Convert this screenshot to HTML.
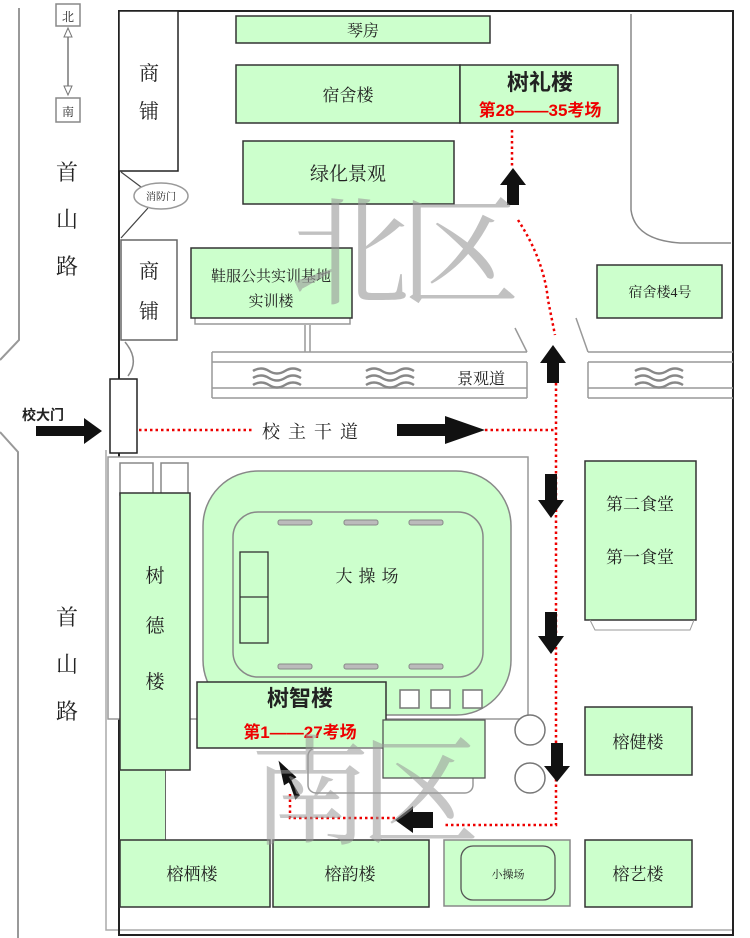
<!DOCTYPE html>
<html><head><meta charset="utf-8"><style>
html,body{margin:0;padding:0;background:#fff}
svg{display:block}
text{font-family:"Liberation Serif","Noto Serif CJK SC","WenQuanYi Zen Hei",serif;fill:#222}
.b{font-family:"Liberation Sans","Noto Sans CJK SC",sans-serif;font-weight:bold}
.g{fill:#ccffcc;stroke:#333;stroke-width:1.5}
.w{fill:#fff;stroke:#555;stroke-width:1.5}
.rd{fill:none;stroke:#e00;stroke-width:2.5;stroke-dasharray:2.5 3}
</style></head><body>
<svg width="750" height="938" viewBox="0 0 750 938" xmlns="http://www.w3.org/2000/svg">
<!-- roads -->
<path d="M19 8V340L0 360" fill="none" stroke="#999" stroke-width="2"/>
<path d="M0 432L18 452V938" fill="none" stroke="#999" stroke-width="2"/>
<path d="M106 450V930H733" fill="none" stroke="#aaa" stroke-width="1.5"/>
<!-- compass -->
<rect x="56" y="4" width="24" height="22" fill="#fff" stroke="#888" stroke-width="1.5"/>
<text x="68" y="21" font-size="12" text-anchor="middle">北</text>
<rect x="56" y="98" width="24" height="24" fill="#fff" stroke="#888" stroke-width="1.5"/>
<text x="68" y="116" font-size="12" text-anchor="middle">南</text>
<line x1="68" y1="30" x2="68" y2="94" stroke="#777" stroke-width="1.5"/>
<path d="M64 37L68 28L72 37Z M64 86L68 95L72 86Z" fill="#fff" stroke="#777"/>
<text x="67" y="180" font-size="22" text-anchor="middle">首</text>
<text x="67" y="227" font-size="22" text-anchor="middle">山</text>
<text x="67" y="274" font-size="22" text-anchor="middle">路</text>
<text x="67" y="625" font-size="22" text-anchor="middle">首</text>
<text x="67" y="672" font-size="22" text-anchor="middle">山</text>
<text x="67" y="719" font-size="22" text-anchor="middle">路</text>
<!-- campus outline -->
<path d="M119 380V11H358V11H733V935H119V452" fill="none" stroke="#222" stroke-width="2"/>
<path d="M260 11H733" stroke="#222" stroke-width="2"/>
<!-- right top curve -->
<path d="M631 14V210Q635 240 680 243H731" fill="none" stroke="#888" stroke-width="1.5"/>
<!-- shops -->
<rect x="119" y="11" width="59" height="160" fill="#fff" stroke="#222" stroke-width="1.5"/>
<text x="149" y="80" font-size="20" text-anchor="middle">商</text>
<text x="149" y="118" font-size="20" text-anchor="middle">铺</text>
<rect x="121" y="240" width="56" height="100" fill="#fff" stroke="#666" stroke-width="1.5"/>
<text x="149" y="278" font-size="20" text-anchor="middle">商</text>
<text x="149" y="318" font-size="20" text-anchor="middle">铺</text>
<path d="M121 172L145 190M121 238L148 208" stroke="#444" stroke-width="1.2"/>
<ellipse cx="161" cy="196" rx="27" ry="13" fill="#fff" stroke="#999" stroke-width="1.5"/>
<text x="161" y="200" font-size="10" text-anchor="middle">消防门</text>
<path d="M125 342Q140 360 128 376" fill="none" stroke="#888" stroke-width="1.5"/>
<!-- gate -->
<rect x="110" y="379" width="27" height="74" fill="#fff" stroke="#222" stroke-width="1.5"/>
<text x="22" y="420" font-size="14" class="b" fill="#000">校大门</text>
<path d="M36 426H84V418L102 431L84 444V436H36Z" fill="#111"/>
<!-- buildings north -->
<rect x="236" y="16" width="254" height="27" class="g"/>
<text x="363" y="36" font-size="16" text-anchor="middle">琴房</text>
<rect x="236" y="65" width="224" height="58" class="g"/>
<text x="348" y="101" font-size="17" text-anchor="middle">宿舍楼</text>
<rect x="460" y="65" width="158" height="58" class="g"/>
<text x="540" y="90" font-size="22" class="b" text-anchor="middle" fill="#111">树礼楼</text>
<text x="540" y="116" font-size="17" class="b" text-anchor="middle" fill="#e00" style="fill:#e00">第28——35考场</text>
<rect x="243" y="141" width="211" height="63" class="g"/>
<text x="348" y="180" font-size="19" text-anchor="middle">绿化景观</text>
<path d="M195 318V324H350V318" fill="none" stroke="#999" stroke-width="1.5"/>
<rect x="191" y="248" width="161" height="70" class="g"/>
<text x="271" y="281" font-size="15" text-anchor="middle">鞋服公共实训基地</text>
<text x="271" y="306" font-size="15" text-anchor="middle">实训楼</text>
<path d="M305 325V352M310 325V352" stroke="#999" stroke-width="1.5"/>
<rect x="597" y="265" width="125" height="53" class="g"/>
<text x="660" y="297" font-size="14" text-anchor="middle">宿舍楼4号</text>
<!-- landscape road -->
<path d="M212 352H527M212 362H527M212 388H527M212 398H527M212 352V398M527 362V398" fill="none" stroke="#999" stroke-width="1.5"/>
<path d="M588 352H733M588 362H733M588 388H733M588 398H733M588 362V398" fill="none" stroke="#999" stroke-width="1.5"/>
<path d="M515 328L527 352M576 318L588 352" stroke="#999" stroke-width="1.5"/>
<g fill="none" stroke="#888" stroke-width="2.5">
<path d="M253 371q8-5 16 0t16 0t16 0M253 378q8-5 16 0t16 0t16 0M253 385q8-5 16 0t16 0t16 0"/>
<path d="M366 371q8-5 16 0t16 0t16 0M366 378q8-5 16 0t16 0t16 0M366 385q8-5 16 0t16 0t16 0"/>
<path d="M635 371q8-5 16 0t16 0t16 0M635 378q8-5 16 0t16 0t16 0M635 385q8-5 16 0t16 0t16 0"/>
</g>
<text x="457" y="384" font-size="16" text-anchor="start">景观道</text>
<!-- main road -->
<text x="262" y="438" font-size="18" letter-spacing="8">校主干道</text>
<path d="M397 424H445V416L485 430L445 444V436H397Z" fill="#111"/>
<!-- red routes -->
<path class="rd" d="M139 430H252"/>
<path class="rd" d="M485 430H556"/>
<path class="rd" d="M556 383V825H443"/>
<path class="rd" d="M395 818H290V793"/>
<path class="rd" d="M512 130V168"/>
<path class="rd" d="M518 220Q544 260 548 300L555 335"/>
<!-- arrows -->
<path d="M507 205V185H500L513 168L526 185H519V205Z" fill="#111"/>
<path d="M547 383V363H540L553 345L566 363H559V383Z" fill="#111"/>
<path d="M545 474V500H538L551 518L564 500H557V474Z" fill="#111"/>
<path d="M545 612V636H538L551 654L564 636H557V612Z" fill="#111"/>
<path d="M551 743V766H544L557 782L570 766H563V743Z" fill="#111"/>
<path d="M433 812H413V806L395 820L413 833V828H433Z" fill="#111"/>
<path d="M298 795L289 780L294 777L281 765L285 783L290 780L296 797Z" fill="#111" stroke="#111" stroke-width="3"/>
<!-- sports field -->
<rect x="108" y="457" width="420" height="262" fill="#fff" stroke="#999" stroke-width="1.5"/>
<rect x="120" y="463" width="33" height="32" fill="#fff" stroke="#888" stroke-width="1.5"/>
<rect x="161" y="463" width="27" height="32" fill="#fff" stroke="#888" stroke-width="1.5"/>
<rect x="203" y="471" width="308" height="244" rx="55" fill="#ccffcc" stroke="#888" stroke-width="1.5"/>
<rect x="233" y="512" width="250" height="165" rx="25" fill="#ccffcc" stroke="#888" stroke-width="1.5"/>
<g fill="#bbb" stroke="#888"><rect x="278" y="520" width="34" height="5" rx="2"/><rect x="344" y="520" width="34" height="5" rx="2"/><rect x="409" y="520" width="34" height="5" rx="2"/>
<rect x="278" y="664" width="34" height="5" rx="2"/><rect x="344" y="664" width="34" height="5" rx="2"/><rect x="409" y="664" width="34" height="5" rx="2"/></g>
<rect x="240" y="552" width="28" height="91" fill="none" stroke="#333" stroke-width="1.3"/>
<line x1="240" y1="597" x2="268" y2="597" stroke="#333" stroke-width="1.3"/>
<text x="370" y="582" font-size="17" text-anchor="middle" letter-spacing="6">大操场</text>
<!-- 树德楼 -->
<rect x="120" y="500" width="70" height="230" fill="#fff" stroke="none"/>
<path d="M120 770H165V840" fill="#ccffcc" stroke="#333" stroke-width="1.5"/>
<rect x="120" y="770" width="45" height="70" fill="#ccffcc" stroke="none"/>
<rect x="120" y="493" width="70" height="277" class="g"/>
<text x="155" y="582" font-size="19" text-anchor="middle">树</text>
<text x="155" y="632" font-size="19" text-anchor="middle">德</text>
<text x="155" y="688" font-size="19" text-anchor="middle">楼</text>
<!-- 树智楼 -->
<rect x="197" y="682" width="189" height="66" class="g"/>
<text x="300" y="706" font-size="22" class="b" text-anchor="middle">树智楼</text>
<text x="300" y="738" font-size="17" class="b" text-anchor="middle" style="fill:#e00">第1——27考场</text>
<rect x="400" y="690" width="19" height="18" fill="#fff" stroke="#777" stroke-width="1.5"/>
<rect x="431" y="690" width="19" height="18" fill="#fff" stroke="#777" stroke-width="1.5"/>
<rect x="463" y="690" width="19" height="18" fill="#fff" stroke="#777" stroke-width="1.5"/>
<rect x="308" y="748" width="165" height="45" rx="8" fill="none" stroke="#999" stroke-width="1.5"/>
<rect x="383" y="720" width="102" height="58" fill="#ccffcc" stroke="#555" stroke-width="1.3"/>
<circle cx="530" cy="730" r="15" fill="#fff" stroke="#777" stroke-width="1.5"/>
<circle cx="530" cy="778" r="15" fill="#fff" stroke="#777" stroke-width="1.5"/>
<!-- east buildings -->
<rect x="585" y="461" width="111" height="159" class="g"/>
<path d="M590 620L595 630H690L694 620" fill="none" stroke="#999"/>
<text x="640" y="510" font-size="17" text-anchor="middle">第二食堂</text>
<text x="640" y="563" font-size="17" text-anchor="middle">第一食堂</text>
<rect x="585" y="707" width="107" height="68" class="g"/>
<text x="638" y="748" font-size="17" text-anchor="middle">榕健楼</text>
<rect x="585" y="840" width="107" height="67" class="g"/>
<text x="638" y="880" font-size="17" text-anchor="middle">榕艺楼</text>
<!-- south buildings -->
<rect x="120" y="840" width="150" height="67" class="g"/>
<text x="192" y="880" font-size="17" text-anchor="middle">榕栖楼</text>
<rect x="273" y="840" width="156" height="67" class="g"/>
<text x="350" y="880" font-size="17" text-anchor="middle">榕韵楼</text>
<rect x="444" y="840" width="126" height="66" fill="#ccffcc" stroke="#888" stroke-width="1.5"/>
<rect x="461" y="846" width="94" height="54" rx="12" fill="#ccffcc" stroke="#555" stroke-width="1.3"/>
<text x="508" y="878" font-size="11" text-anchor="middle">小操场</text>
<!-- watermarks -->
<text x="400" y="295" font-size="120" text-anchor="middle" style="fill:#999;opacity:.6" letter-spacing="-10">北区</text>
<text x="360" y="835" font-size="120" text-anchor="middle" style="fill:#999;opacity:.55" letter-spacing="-10">南区</text>
</svg>
</body></html>
